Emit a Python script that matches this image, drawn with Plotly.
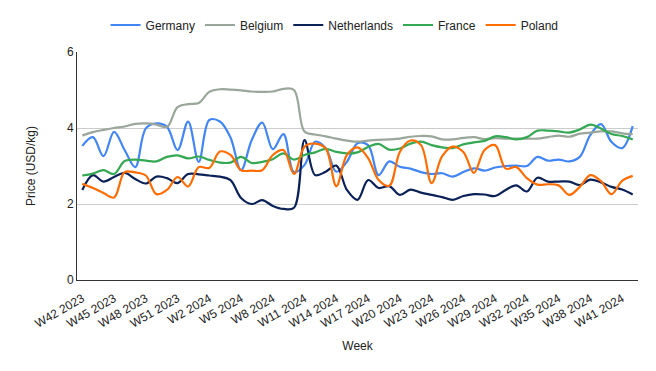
import plotly.graph_objects as go

weeks = [f"W{w} 2023" for w in range(42, 53)] + [f"W{w} 2024" for w in range(1, 43)]

germany = [3.53, 3.76, 3.26, 3.90, 3.42, 2.97, 3.99, 4.12, 4.03, 3.42,
           4.17, 3.11, 4.21, 4.17, 3.75, 2.89, 3.68, 4.14, 3.44, 3.84,
           2.84, 3.03, 3.64, 3.47, 2.85, 3.11, 3.60, 3.55, 2.76, 3.12,
           2.98, 2.93, 2.84, 2.79, 2.81, 2.72, 2.84, 2.94, 2.88, 2.96,
           3.00, 3.01, 3.00, 3.24, 3.14, 3.17, 3.12, 3.24, 3.82, 4.10,
           3.63, 3.47, 4.05]
belgium = [3.80, 3.89, 3.95, 4.00, 4.04, 4.11, 4.12, 4.09, 4.03, 4.55,
           4.63, 4.66, 4.95, 5.02, 5.01, 4.99, 4.96, 4.95, 4.96, 5.03,
           5.00, 3.90, 3.83, 3.78, 3.72, 3.67, 3.64, 3.67, 3.69, 3.70,
           3.72, 3.77, 3.79, 3.78, 3.70, 3.70, 3.74, 3.76, 3.71, 3.73,
           3.72, 3.72, 3.72, 3.72, 3.76, 3.80, 3.77, 3.85, 3.88, 3.91,
           3.91, 3.86, 3.84]
netherlands = [2.37, 2.76, 2.59, 2.71, 2.82, 2.66, 2.54, 2.72, 2.68, 2.55,
               2.79, 2.78, 2.75, 2.72, 2.63, 2.16, 2.00, 2.10, 1.95, 1.87,
               1.90, 3.68, 2.76, 2.85, 3.01, 2.37, 2.11, 2.63, 2.42, 2.47,
               2.24, 2.38, 2.30, 2.24, 2.18, 2.11, 2.21, 2.26, 2.25, 2.21,
               2.37, 2.49, 2.33, 2.69, 2.59, 2.59, 2.59, 2.50, 2.64, 2.57,
               2.45, 2.38, 2.25]
france = [2.75, 2.80, 2.89, 2.79, 3.13, 3.17, 3.14, 3.12, 3.24, 3.28,
          3.20, 3.25, 3.16, 3.09, 3.09, 3.24, 3.08, 3.11, 3.18, 3.33,
          3.17, 3.29, 3.36, 3.45, 3.37, 3.33, 3.36, 3.50, 3.58, 3.43,
          3.46, 3.59, 3.64, 3.55, 3.49, 3.47, 3.57, 3.62, 3.66, 3.78,
          3.76, 3.70, 3.76, 3.93, 3.93, 3.91, 3.88, 3.96, 4.09, 3.99,
          3.84, 3.79, 3.70]
poland = [2.53, 2.42, 2.29, 2.17, 2.84, 2.83, 2.75, 2.26, 2.37, 2.71,
          2.46, 2.97, 2.95, 3.38, 3.29, 2.89, 2.88, 2.89, 3.29, 3.42,
          2.79, 3.51, 3.59, 3.46, 2.47, 3.29, 3.49, 3.21, 2.63, 2.48,
          3.37, 3.67, 3.55, 2.55, 3.26, 3.51, 3.37, 2.82, 3.42, 3.55,
          2.93, 2.97, 2.68, 2.51, 2.52, 2.49, 2.24, 2.45, 2.76, 2.60,
          2.26, 2.61, 2.74]

series = [
    ("Germany", germany, "#4285F4"),
    ("Belgium", belgium, "#9AA69A"),
    ("Netherlands", netherlands, "#0B2157"),
    ("France", france, "#34A853"),
    ("Poland", poland, "#FF6D01"),
]

tick_labels = weeks[::3]

fig = go.Figure()
for name, vals, color in series:
    fig.add_trace(go.Scatter(
        x=weeks, y=vals, name=name, mode="lines",
        line=dict(color=color, width=2.2, shape="spline", smoothing=1.0),
    ))

font_family = "Liberation Sans, Arial, sans-serif"
fig.update_layout(
    width=656, height=371,
    margin=dict(l=77, r=18, t=52, b=91, autoexpand=False),
    paper_bgcolor="white", plot_bgcolor="white",
    font=dict(family=font_family, size=12, color="#222222"),
    showlegend=True,
    legend=dict(
        orientation="h", xref="container", yref="container",
        x=0.51, xanchor="center", y=1 - 25 / 371, yanchor="middle",
        font=dict(size=12, color="#222222"), itemwidth=30,
        bgcolor="rgba(0,0,0,0)",
    ),
    xaxis=dict(
        type="category", range=[-0.5, len(weeks) - 0.5], automargin=False,
        tickmode="array", tickvals=tick_labels, ticktext=tick_labels,
        tickangle=-30, tickfont=dict(size=12, color="#222222"),
        ticklabelstandoff=6,
        showgrid=False, showline=True, linecolor="#333333", linewidth=1,
        ticks="", title=dict(text="Week", font=dict(size=12, color="#222222"), standoff=12),
    ),
    yaxis=dict(
        range=[0, 6], tickvals=[0, 2, 4, 6], ticktext=["0", "2", "4", "6"], automargin=False,
        showgrid=True, gridcolor="#CCCCCC", gridwidth=1,
        zeroline=False, showline=True, linecolor="#333333", linewidth=1,
        ticks="", tickfont=dict(size=12, color="#222222"),
        title=dict(text="Price (USD/kg)", font=dict(size=12, color="#222222"), standoff=28),
    ),
)

fig.write_html(
    "out.html",
    config={"displayModeBar": False},
    post_script="document.body.style.margin='0';document.body.style.padding='0';",
)
